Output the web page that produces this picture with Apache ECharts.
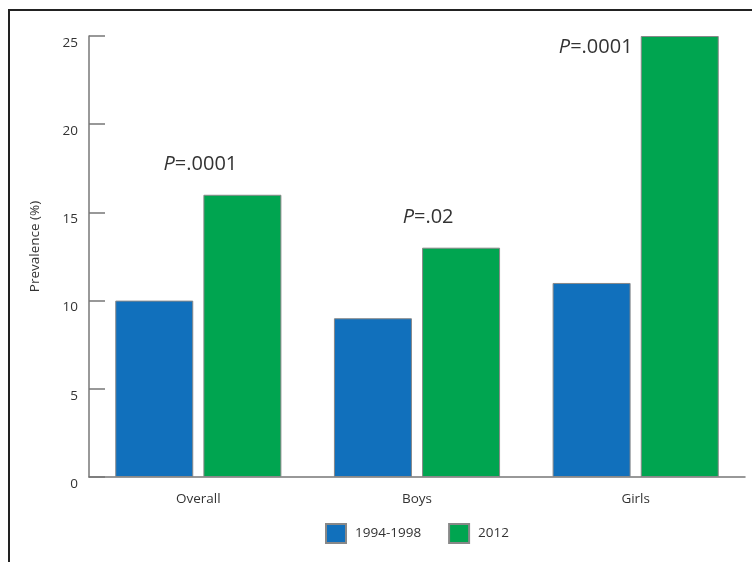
<!DOCTYPE html>
<html><head><meta charset="utf-8">
<script src="https://cdn.jsdelivr.net/npm/echarts@6/dist/echarts.min.js"></script>
<style>html,body{margin:0;padding:0;background:#fff}#c{width:752px;height:562px}</style>
</head><body><div id="c"></div>
<script>
const categories = ['Overall', 'Boys', 'Girls'];
const series1994 = [10, 9, 11];
const series2012 = [16, 13, 25];
const pValues = ['.0001', '.02', '.0001'];
const yTicks = [0, 5, 10, 15, 20, 25];

const FONT = '"Open Sans", "Noto Sans", sans-serif';
const labelPlacement = [
  {offset: [-42, -15]},
  {offset: [-33, -15]},
  {offset: [-84, 26]}
];
const chart = echarts.init(document.getElementById('c'));
const greenData = series2012.map((v, i) => ({
  value: v,
  label: {
    show: true, position: 'top', offset: labelPlacement[i].offset,
    formatter: '{p|P}{t|=' + pValues[i] + '}',
    rich: {
      p: {fontStyle: 'italic', fontSize: 20, color: '#333', fontFamily: FONT},
      t: {fontSize: 20, color: '#333', fontFamily: FONT}
    }
  }
}));
chart.setOption({
  animation: false,
  textStyle: {fontFamily: FONT},
  graphic: [{type: 'rect', shape: {x: 9, y: 10, width: 800, height: 600}, style: {fill: 'none', stroke: '#222', lineWidth: 2}, silent: true}],
  grid: {left: 89, right: 7, top: 36, bottom: 85},
  legend: {
    top: 523, left: 325, padding: 0, itemWidth: 20, itemHeight: 19, itemGap: 27,
    icon: 'rect',
    textStyle: {fontSize: 13.5, color: '#333', fontFamily: FONT, padding: [0, 0, 0, 4]},
    data: ['1994-1998', '2012']
  },
  xAxis: {
    type: 'category', data: categories,
    axisLine: {lineStyle: {color: '#777', width: 1.5}},
    axisTick: {inside: true, length: 10, lineStyle: {color: '#777', width: 1.5}},
    axisLabel: {color: '#333', fontSize: 13.5, margin: 15, fontFamily: FONT}
  },
  yAxis: {
    type: 'value', min: 0, max: 25, interval: 5,
    name: 'Prevalence (%)', nameLocation: 'middle', nameGap: 47,
    nameTextStyle: {fontSize: 13.5, color: '#333', fontFamily: FONT, padding: [0, 0, 0, 20]},
    splitLine: {show: false},
    axisLine: {show: true, lineStyle: {color: '#777', width: 1.5}},
    axisTick: {show: true, inside: true, length: 16, lineStyle: {color: '#777', width: 1.5}},
    axisLabel: {color: '#333', fontSize: 13.5, margin: 11, verticalAlign: 'top', fontFamily: FONT,
      formatter: v => yTicks.includes(v) ? String(v) : ''}
  },
  series: [
    {name: '1994-1998', type: 'bar', data: series1994, barWidth: 78, barGap: '13%',
      itemStyle: {color: '#1170bc', borderColor: '#888', borderWidth: 1}},
    {name: '2012', type: 'bar', data: greenData, barWidth: 78,
      itemStyle: {color: '#00a550', borderColor: '#888', borderWidth: 1}}
  ]
});
</script></body></html>
